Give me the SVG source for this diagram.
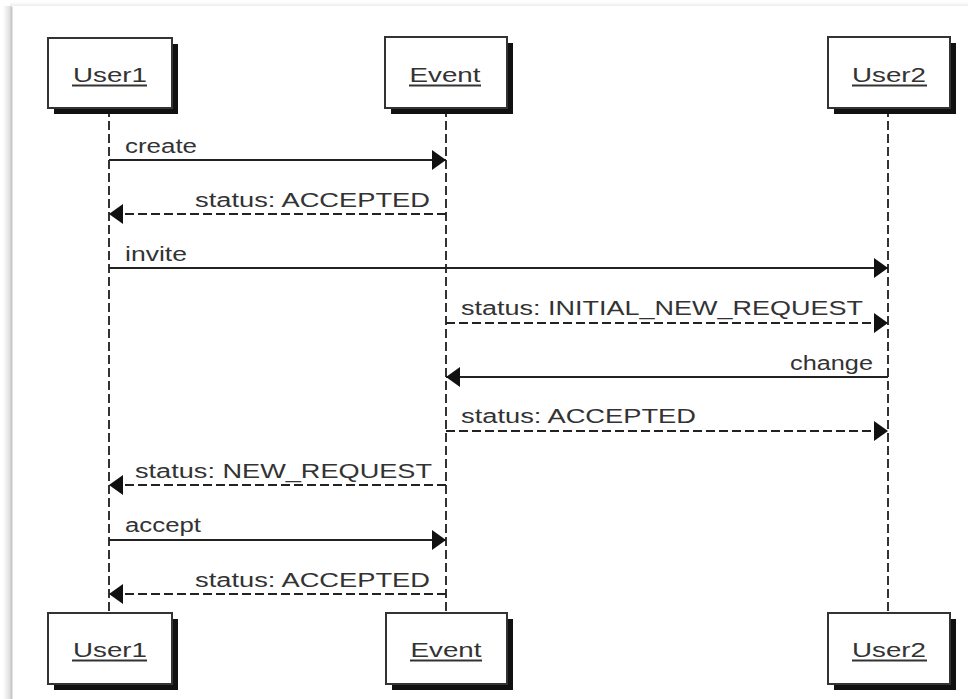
<svg xmlns="http://www.w3.org/2000/svg" width="968" height="699" viewBox="0 0 968 699">
<defs>
<linearGradient id="lsh" x1="0" y1="0" x2="1" y2="0">
<stop offset="0" stop-color="#ffffff"/>
<stop offset="1" stop-color="#d4d4d4"/>
</linearGradient>
<linearGradient id="tsh" x1="0" y1="0" x2="0" y2="1">
<stop offset="0" stop-color="#ffffff"/>
<stop offset="1" stop-color="#ececec"/>
</linearGradient>
<marker id="ah" viewBox="0 0 14 20" refX="14" refY="10" markerWidth="14" markerHeight="20" markerUnits="userSpaceOnUse" orient="auto">
<path d="M0,0 L14,10 L0,20 Z" fill="#111"/>
</marker>
</defs>
<style>
.box{fill:#fff;stroke:#333;stroke-width:2}
.shadow{fill:#111}
.name{font-family:"Liberation Sans",Arial,sans-serif;font-size:20px;fill:#333;text-anchor:middle}
.ul{stroke:#333;stroke-width:2}
.life{stroke:#333;stroke-width:2;stroke-dasharray:9 4;fill:none}
.msg{stroke:#222;stroke-width:2;fill:none;marker-end:url(#ah)}
.ret{stroke:#222;stroke-width:2;fill:none;stroke-dasharray:9 4;marker-end:url(#ah)}
.lbl{font-family:"Liberation Sans",Arial,sans-serif;font-size:20px;fill:#333}
</style>
<rect x="0" y="0" width="968" height="699" fill="#fff"/>
<rect x="3" y="6" width="9" height="693" fill="url(#lsh)"/>
<rect x="10" y="2" width="958" height="4" fill="url(#tsh)"/>
<line x1="11.5" y1="7" x2="11.5" y2="699" stroke="#c8c8c8" stroke-width="2"/>

<g id="lifelines">
<line class="life" x1="109" y1="108" x2="109" y2="613"/>
<line class="life" x1="446" y1="108" x2="446" y2="613"/>
<line class="life" x1="888" y1="108" x2="888" y2="613"/>
</g>

<g id="user1-top">
<rect class="shadow" x="54" y="44" width="124" height="70"/>
<rect class="box" x="48" y="38" width="124" height="70"/>
<text class="name" x="110" y="82" textLength="74" lengthAdjust="spacingAndGlyphs">User1</text>
<line class="ul" x1="72" y1="85.5" x2="147" y2="85.5"/>
</g>
<g id="event-top">
<rect class="shadow" x="391" y="43" width="122" height="71"/>
<rect class="box" x="385" y="37" width="122" height="71"/>
<text class="name" x="445" y="82" textLength="71" lengthAdjust="spacingAndGlyphs">Event</text>
<line class="ul" x1="409" y1="85.5" x2="481" y2="85.5"/>
</g>
<g id="user2-top">
<rect class="shadow" x="834" y="43" width="122" height="71"/>
<rect class="box" x="828" y="37" width="122" height="71"/>
<text class="name" x="889" y="82" textLength="74" lengthAdjust="spacingAndGlyphs">User2</text>
<line class="ul" x1="852" y1="85.5" x2="927" y2="85.5"/>
</g>

<g id="user1-bottom">
<rect class="shadow" x="54" y="619" width="124" height="71"/>
<rect class="box" x="48" y="613" width="124" height="71"/>
<text class="name" x="110" y="657" textLength="74" lengthAdjust="spacingAndGlyphs">User1</text>
<line class="ul" x1="72" y1="660.5" x2="147" y2="660.5"/>
</g>
<g id="event-bottom">
<rect class="shadow" x="392" y="619" width="121" height="71"/>
<rect class="box" x="386" y="613" width="121" height="71"/>
<text class="name" x="446" y="657" textLength="71" lengthAdjust="spacingAndGlyphs">Event</text>
<line class="ul" x1="410" y1="660.5" x2="482" y2="660.5"/>
</g>
<g id="user2-bottom">
<rect class="shadow" x="834" y="619" width="122" height="71"/>
<rect class="box" x="828" y="613" width="122" height="71"/>
<text class="name" x="889" y="657" textLength="74" lengthAdjust="spacingAndGlyphs">User2</text>
<line class="ul" x1="852" y1="660.5" x2="927" y2="660.5"/>
</g>

<g id="connectors">
<line class="msg" x1="109" y1="160" x2="446" y2="160"/>
<line class="ret" x1="446" y1="214" x2="109" y2="214"/>
<line class="msg" x1="109" y1="268" x2="888" y2="268"/>
<line class="ret" x1="446" y1="323" x2="888" y2="323"/>
<line class="msg" x1="888" y1="377" x2="446" y2="377"/>
<line class="ret" x1="446" y1="431" x2="888" y2="431"/>
<line class="ret" x1="446" y1="485" x2="109" y2="485"/>
<line class="msg" x1="109" y1="540" x2="446" y2="540"/>
<line class="ret" x1="446" y1="594" x2="109" y2="594"/>
</g>

<g id="labels">
<text class="lbl" x="125" y="153" textLength="72" lengthAdjust="spacingAndGlyphs">create</text>
<text class="lbl" x="195" y="207" textLength="235" lengthAdjust="spacingAndGlyphs">status: ACCEPTED</text>
<text class="lbl" x="125" y="261" textLength="62" lengthAdjust="spacingAndGlyphs">invite</text>
<text class="lbl" x="461" y="315" textLength="402" lengthAdjust="spacingAndGlyphs">status: INITIAL_NEW_REQUEST</text>
<text class="lbl" x="790" y="370" textLength="83" lengthAdjust="spacingAndGlyphs">change</text>
<text class="lbl" x="461" y="423" textLength="235" lengthAdjust="spacingAndGlyphs">status: ACCEPTED</text>
<text class="lbl" x="135" y="478" textLength="297" lengthAdjust="spacingAndGlyphs">status: NEW_REQUEST</text>
<text class="lbl" x="125" y="532" textLength="76" lengthAdjust="spacingAndGlyphs">accept</text>
<text class="lbl" x="195" y="587" textLength="235" lengthAdjust="spacingAndGlyphs">status: ACCEPTED</text>
</g>
</svg>
